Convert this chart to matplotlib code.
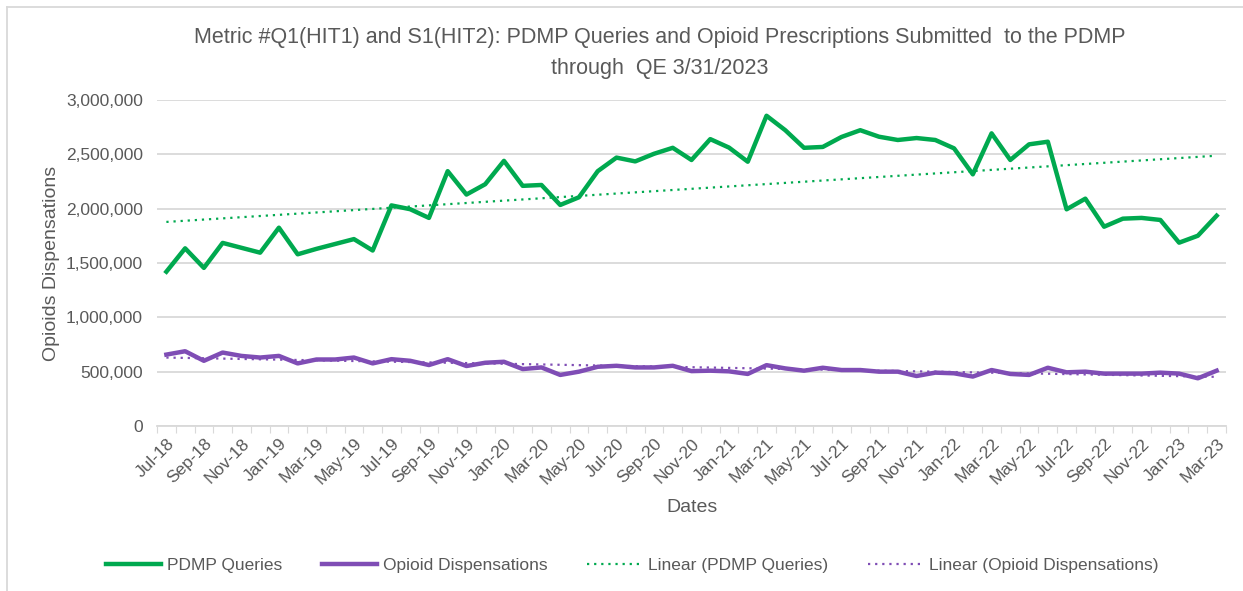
import numpy as np
import pandas as pd
import matplotlib
matplotlib.use("Agg")
import matplotlib.pyplot as plt
from matplotlib.ticker import FuncFormatter
from matplotlib.lines import Line2D

plt.rcParams['font.family'] = ['Liberation Sans', 'DejaVu Sans']

# monthly series, Jul-18 .. Mar-23
months = pd.date_range("2018-07-01", "2023-03-01", freq="MS")
month_labels = [d.strftime("%b-%y") for d in months]

pdmp_queries = [
    1420000, 1635000, 1455000, 1685000, 1640000, 1595000, 1825000, 1580000,
    1630000, 1675000, 1720000, 1615000, 2030000, 1995000, 1915000, 2345000,
    2130000, 2225000, 2440000, 2210000, 2218000, 2034000, 2105000, 2345000,
    2470000, 2435000, 2505000, 2560000, 2448000, 2640000, 2562000, 2432000,
    2855000, 2722000, 2560000, 2568000, 2660000, 2722000, 2662000, 2632000,
    2650000, 2632000, 2555000, 2316000, 2693000, 2448000, 2592000, 2616000,
    1994000, 2092000, 1834000, 1908000, 1915000, 1896000, 1687000, 1751000,
    1935000,
]

opioid_dispensations = [
    657000, 688000, 600000, 676000, 645000, 630000, 645000, 576000,
    612000, 612000, 630000, 576000, 615000, 600000, 561000, 615000,
    552000, 582000, 591000, 524000, 539000, 470000, 500000, 545000,
    554000, 539000, 539000, 554000, 505000, 509000, 503000, 479000,
    560000, 530000, 509000, 536000, 515000, 515000, 500000, 500000,
    460000, 491000, 485000, 455000, 515000, 479000, 470000, 536000,
    494000, 500000, 482000, 482000, 482000, 491000, 482000, 439000,
    509000,
]

green = '#00A94F'
purple = '#7F4DB5'
grey_txt = '#595959'
grid_c = '#D9D9D9'

x = np.arange(len(months))
trend_q = np.polyval(np.polyfit(x, pdmp_queries, 1), x)
trend_o = np.polyval(np.polyfit(x, opioid_dispensations, 1), x)

fig = plt.figure(figsize=(12.43, 5.91), dpi=100)
ax = fig.add_axes([157/1243, 1-426/591, (1226-157)/1243, (426-100)/591])

ax.plot(x, pdmp_queries, color=green, lw=3.2, solid_joinstyle='round', zorder=3)
ax.plot(x, opioid_dispensations, color=purple, lw=3.2, solid_joinstyle='round', zorder=3)
ax.plot(x, trend_q, color=green, lw=1.6, ls=(0, (1, 2.2)), zorder=4)
ax.plot(x, trend_o, color=purple, lw=1.6, ls=(0, (1, 2.2)), zorder=4)

ax.set_xlim(-0.5, len(x) - 0.5)
ax.set_ylim(0, 3000000)
ax.set_yticks(np.arange(0, 3000001, 500000))
ax.yaxis.set_major_formatter(FuncFormatter(lambda v, p: f"{int(v):,}"))
ax.yaxis.grid(True, color=grid_c, lw=1.3)
ax.set_axisbelow(True)
ax.tick_params(axis='y', length=0, labelsize=12.5, labelcolor=grey_txt, pad=10)

# category boundaries get tick marks, labels sit on every other month
ax.set_xticks(np.arange(-0.5, len(x), 1.0))
ax.tick_params(axis='x', which='major', length=5, color=grid_c, labelbottom=False)
ax.set_xticks(x[::2], minor=True)
ax.set_xticklabels(month_labels[::2], minor=True, rotation=45, ha='right',
                   rotation_mode='anchor', fontsize=12.5, color=grey_txt)
ax.tick_params(axis='x', which='minor', length=0, pad=7)

for s in ['top', 'right', 'left']:
    ax.spines[s].set_visible(False)
ax.spines['bottom'].set_color(grid_c)
ax.spines['bottom'].set_linewidth(1.3)

ax.set_xlabel("Dates", fontsize=14, color=grey_txt, labelpad=8)
ax.set_ylabel("Opioids Dispensations", fontsize=14, color=grey_txt, labelpad=4)

fig.text(660/1243, 1-53/591,
         "Metric #Q1(HIT1) and S1(HIT2): PDMP Queries and Opioid Prescriptions Submitted  to the PDMP\nthrough  QE 3/31/2023",
         ha='center', va='center', fontsize=15.5, color=grey_txt, linespacing=1.6)

handles = [
    Line2D([], [], color=green, lw=3.2),
    Line2D([], [], color=purple, lw=3.2),
    Line2D([], [], color=green, lw=1.6, ls=(0, (1, 2.2))),
    Line2D([], [], color=purple, lw=1.6, ls=(0, (1, 2.2))),
]
names = ["PDMP Queries", "Opioid Dispensations", "Linear (PDMP Queries)",
         "Linear (Opioid Dispensations)"]
fig.legend(handles, names, loc='center', bbox_to_anchor=(632/1243, 1-565/591),
           ncol=4, frameon=False, fontsize=12.5, labelcolor=grey_txt,
           handlelength=3.2, handletextpad=0.3, columnspacing=2.3)

# chart frame
fig.add_artist(Line2D([6.5/1243, 6.5/1243], [0, 1-6.5/591], color=grid_c, lw=1.3,
                      transform=fig.transFigure))
fig.add_artist(Line2D([6.5/1243, 1], [1-6.5/591, 1-6.5/591], color=grid_c, lw=1.3,
                      transform=fig.transFigure))

fig.savefig("out.png", dpi=100, facecolor='white')
